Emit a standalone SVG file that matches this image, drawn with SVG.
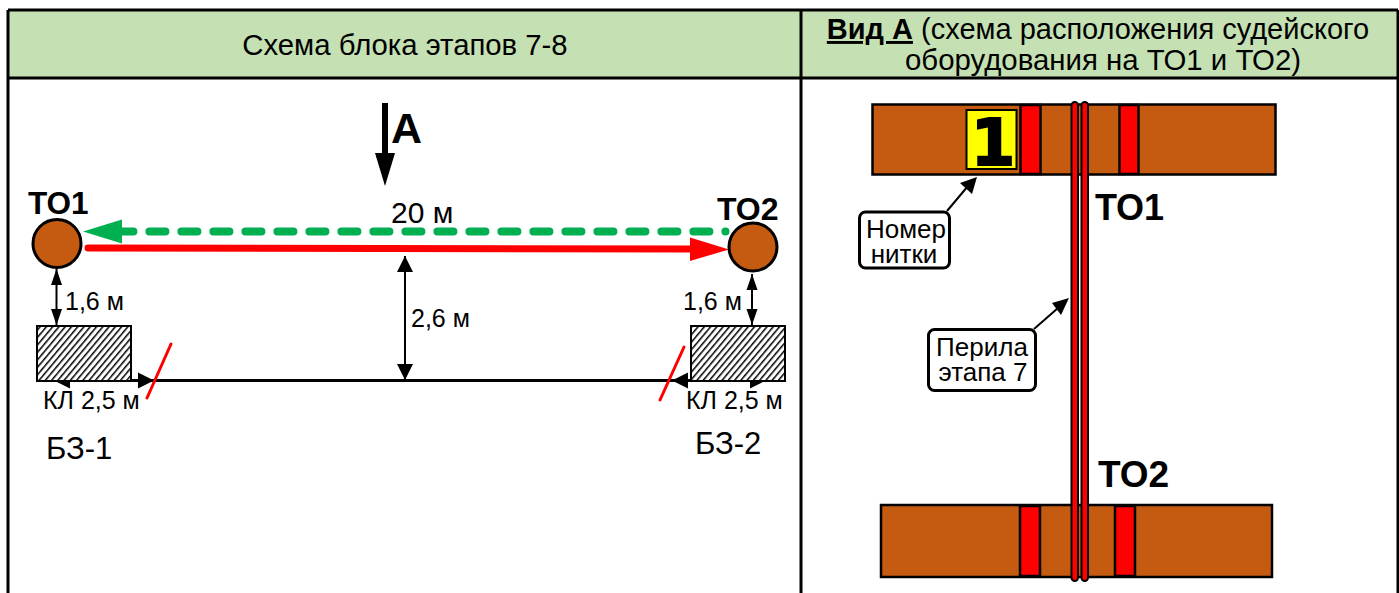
<svg xmlns="http://www.w3.org/2000/svg" width="1399" height="593" viewBox="0 0 1399 593">
<style>
text{font-family:"Liberation Sans",Arial,sans-serif;fill:#000}
.h{font-size:29px}
.b{font-weight:bold}
.t{font-size:25px}
.c{font-size:26px}
.m{text-anchor:middle}
.grid{stroke:#000;stroke-width:3;fill:none}
.bar{fill:#C55A11;stroke:#000;stroke-width:2.500}
.red{fill:#f00;stroke:#000;stroke-width:2.500}
.rope{fill:#f00;stroke:#000;stroke-width:2}
.call{fill:#fff;stroke:#000;stroke-width:3}
.circ{fill:#C55A11;stroke:#000;stroke-width:3}
.hatch{fill:url(#h);stroke:#000;stroke-width:2}
.dim{stroke:#000;stroke-width:2;fill:none;marker-start:url(#a);marker-end:url(#a)}
.dimh{stroke:#000;stroke-width:2;fill:none;marker-start:url(#w);marker-end:url(#w)}
</style>
<defs>
<pattern id="h" width="4.800" height="4.800" patternUnits="userSpaceOnUse" patternTransform="rotate(40)"><rect width="4.800" height="4.800" fill="#fff"/><rect width="1.500" height="4.800" fill="#000"/></pattern>
<marker id="a" markerUnits="userSpaceOnUse" markerWidth="17" markerHeight="12" refX="16" refY="6" orient="auto-start-reverse"><path d="M0 0.500L16 6L0 11.500Z" fill="#000"/></marker>
<marker id="w" markerUnits="userSpaceOnUse" markerWidth="17" markerHeight="17" refX="16" refY="8.500" orient="auto-start-reverse"><path d="M0 0.500L16 8.500L0 16.500Z" fill="#000"/></marker>
</defs>
<g id="table">
<rect x="8" y="10" width="1390" height="68" fill="#C5E0B3"/>
<path class="grid" d="M8 10H1398M8 78H1398M8 10V593M801 10V593M1398 10V593"/>
<text class="h m" x="405" y="55" style="font-size:29.300px">Схема блока этапов 7-8</text>
<text class="h m" x="1098" y="39"><tspan class="b" text-decoration="underline">Вид А</tspan> (схема расположения судейского</text>
<text class="h m" x="1103" y="70" style="font-size:29.400px">оборудования на ТО1 и ТО2)</text>
</g>
<g id="connectors">
<path d="M131 380.500H691" stroke="#000" stroke-width="3" fill="none"/>
<path class="dim" d="M56.500 269V325"/>
<path class="dim" d="M752 274V325"/>
<path class="dimh" d="M405 256V380"/>
<path class="dimh" d="M54 380.500H154"/>
<path class="dimh" d="M672 380.500H766"/>
<path d="M147 398L171 344M660 400L684 347" stroke="#f00" stroke-width="3" stroke-linecap="round" fill="none"/>
<path d="M385 103V155" stroke="#000" stroke-width="6" fill="none"/>
<path d="M375 153H395L385 186Z" fill="#000"/>
<path d="M725.500 231.500H122" stroke="#00B050" stroke-width="8" stroke-linecap="round" stroke-dasharray="16 16" stroke-dashoffset="15.900" fill="none"/>
<path d="M83 231.500L122 219.500V243.500Z" fill="#00B050"/>
<path d="M88 248L692 249" stroke="#f00" stroke-width="7" stroke-linecap="round" fill="none"/>
<path d="M690 237.500L729 249.500L690 261Z" fill="#f00"/>
<path d="M947 211L968 186" stroke="#000" stroke-width="2" fill="none"/>
<path d="M977 177L972 194L960 183Z" fill="#000"/>
<path d="M1034 329L1058 308" stroke="#000" stroke-width="2" fill="none"/>
<path d="M1069 298L1061 315L1052 303Z" fill="#000"/>
</g>
<g id="to1"><circle class="circ" cx="57" cy="243.500" r="24"/><text class="b" x="28" y="214" style="font-size:31.500px">ТО1</text></g>
<g id="to2"><circle class="circ" cx="753" cy="247" r="24"/><text class="b" x="717" y="220" style="font-size:32px">ТО2</text></g>
<g id="bz1"><rect class="hatch" x="37" y="326" width="94" height="55"/><text x="46" y="459" style="font-size:31px">БЗ-1</text></g>
<g id="bz2"><rect class="hatch" x="691" y="326" width="94" height="55"/><text x="695" y="454" style="font-size:31px">БЗ-2</text></g>
<g id="dims">
<text class="t" x="65" y="310">1,6 м</text>
<text class="t" x="683" y="310">1,6 м</text>
<text class="t" x="411" y="327">2,6 м</text>
<text x="391" y="223" style="font-size:30px">20 м</text>
<text class="t" x="43" y="409">КЛ 2,5 м</text>
<text class="t" x="686" y="409">КЛ 2,5 м</text>
<text class="b" x="391" y="143" style="font-size:43px">А</text>
</g>
<g id="top-bar">
<rect class="bar" x="872.500" y="104.500" width="403" height="70"/>
<rect class="red" x="1020.500" y="105" width="20" height="69"/>
<rect class="red" x="1119.500" y="105" width="19" height="69"/>
<rect x="966.500" y="110" width="50" height="59" fill="#ff0" stroke="#000" stroke-width="2"/>
<text x="993" y="165" text-anchor="middle" stroke="#000" stroke-width="2" style="font-family:'DejaVu Sans',sans-serif;font-weight:bold;font-size:64px">1</text>
</g>
<g id="bottom-bar">
<rect class="bar" x="881" y="505" width="391" height="72"/>
<rect class="red" x="1020" y="506" width="20" height="70"/>
<rect class="red" x="1115" y="506" width="20" height="70"/>
</g>
<g id="ropes">
<rect class="rope" x="1071.500" y="102" width="6.500" height="479" rx="3.200"/>
<rect class="rope" x="1081.500" y="102" width="6.500" height="479" rx="3.200"/>
</g>
<g id="labels">
<text class="b" x="1095" y="220" style="font-size:36px">ТО1</text>
<text class="b" x="1098" y="487" style="font-size:37px">ТО2</text>
</g>
<g id="callout1"><rect class="call" x="859.500" y="212" width="90" height="56" rx="6"/><text class="c m"><tspan x="906" y="238">Номер</tspan><tspan x="904" y="263">нитки</tspan></text></g>
<g id="callout2"><rect class="call" x="928.500" y="329.500" width="107" height="61" rx="6"/><text class="c m"><tspan x="982" y="356">Перила</tspan><tspan x="983" y="381">этапа 7</tspan></text></g>
</svg>
